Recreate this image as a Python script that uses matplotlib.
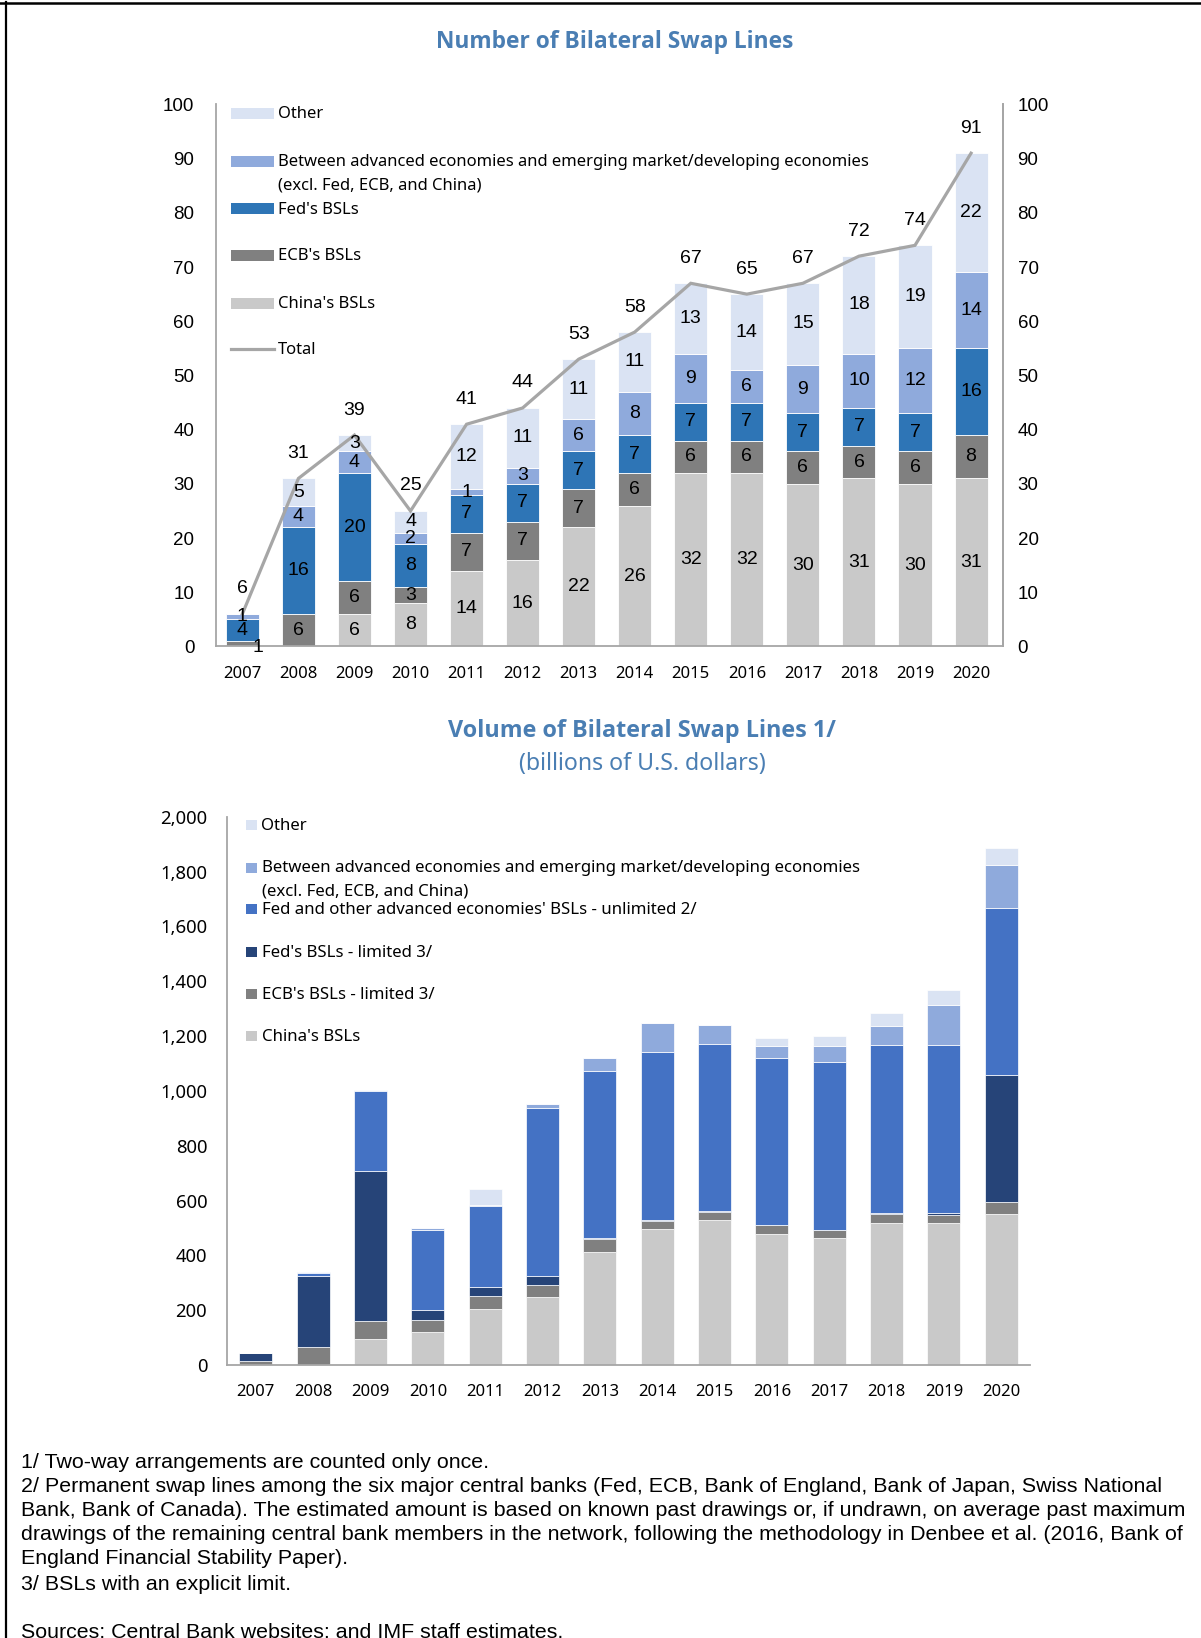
import matplotlib
matplotlib.use('Agg')
import matplotlib.pyplot as plt
from matplotlib.lines import Line2D
from matplotlib.patches import Rectangle
from matplotlib.ticker import FuncFormatter
import numpy as np

# ---------------- data ----------------
years = [str(y) for y in range(2007, 2021)]

# Number of bilateral swap lines
n_china = [0, 0, 6, 8, 14, 16, 22, 26, 32, 32, 30, 31, 30, 31]
n_ecb = [1, 6, 6, 3, 7, 7, 7, 6, 6, 6, 6, 6, 6, 8]
n_fed = [4, 16, 20, 8, 7, 7, 7, 7, 7, 7, 7, 7, 7, 16]
n_aeem = [1, 4, 4, 2, 1, 3, 6, 8, 9, 6, 9, 10, 12, 14]
n_other = [0, 5, 3, 4, 12, 11, 11, 11, 13, 14, 15, 18, 19, 22]
n_total = [6, 31, 39, 25, 41, 44, 53, 58, 67, 65, 67, 72, 74, 91]

# Volume of bilateral swap lines (billions of USD)
v_china = [0, 0, 95, 119, 205, 247, 412, 496, 530, 479, 463, 519, 517, 549]
v_ecb = [15, 66, 65, 45, 48, 45, 46, 30, 29, 30, 29, 30, 29, 46]
v_fed_lim = [30, 257, 546, 35, 33, 34, 4, 2, 3, 3, 0, 7, 8, 462]
v_unlim = [0, 13, 293, 293, 293, 610, 609, 612, 609, 609, 614, 611, 612, 609]
v_aeem = [0, 3, 5, 6, 3, 17, 50, 107, 68, 43, 58, 68, 148, 157]
v_other = [0, 0, 0, 0, 60, 0, 0, 0, 0, 30, 36, 49, 53, 63]

top_labels = ["Other",
              "Between advanced economies and emerging market/developing economies",
              "(excl. Fed, ECB, and China)",
              "Fed's BSLs", "ECB's BSLs", "China's BSLs", "Total"]
bot_labels = ["Other",
              "Between advanced economies and emerging market/developing economies",
              "(excl. Fed, ECB, and China)",
              "Fed and other advanced economies' BSLs - unlimited 2/",
              "Fed's BSLs - limited 3/", "ECB's BSLs - limited 3/", "China's BSLs"]

footnotes = [
    "1/ Two-way arrangements are counted only once.",
    "2/ Permanent swap lines among the six major central banks (Fed, ECB, Bank of England, Bank of Japan, Swiss National",
    "Bank, Bank of Canada). The estimated amount is based on known past drawings or, if undrawn, on average past maximum",
    "drawings of the remaining central bank members in the network, following the methodology in Denbee et al. (2016, Bank of",
    "England Financial Stability Paper).",
    "3/ BSLs with an explicit limit.",
    "Sources: Central Bank websites; and IMF staff estimates.",
]

# ---------------- style ----------------
C_OTHER = '#dae3f3'
C_AEEM = '#8faadc'
C_FED = '#2e75b6'
C_ECB = '#808080'
C_CHINA = '#c9c9c9'
C_UNLIM = '#4472c4'
C_FEDLIM = '#264478'
C_LINE = '#a6a6a6'
C_SPINE = '#a6a6a6'
C_TITLE = '#4a7eb3'

SANS = ['Noto Sans', 'DejaVu Sans']
BOLD = ['Open Sans', 'Lato', 'DejaVu Sans']
ARIAL = ['Liberation Sans', 'DejaVu Sans']

W, H = 1201, 1638
DPI = 100
fig = plt.figure(figsize=(W / DPI, H / DPI), dpi=DPI)
renderer = fig.canvas.get_renderer()


def fx(px):
    return px / W


def fy(py):
    return 1 - py / H


def fit_size(s, target, family, weight='normal', base=12.0):
    t = fig.text(0, 0, s, fontsize=base, family=family, weight=weight)
    w = t.get_window_extent(renderer).width
    t.remove()
    return base * target / w


# borders
fig.add_artist(Line2D([0, 1], [fy(3), fy(3)], transform=fig.transFigure,
                      color='black', lw=1.8))
fig.add_artist(Line2D([fx(6.2), fx(6.2)], [0, fy(2)], transform=fig.transFigure,
                      color='black', lw=1.6))

# ---------------- top chart ----------------
x = np.arange(len(years))
ax1 = fig.add_axes([fx(216), fy(646.5), fx(1003) - fx(216), fy(104.4) - fy(646.5)])
ax1.set_xlim(-0.47, 13.57)
ax1.set_ylim(0, 100)
bw1 = 0.59

series1 = [(n_china, C_CHINA), (n_ecb, C_ECB), (n_fed, C_FED), (n_aeem, C_AEEM), (n_other, C_OTHER)]
bottom = np.zeros(len(years))
LBL_FS = 14
for si, (vals, col) in enumerate(series1):
    vals = np.array(vals, dtype=float)
    ax1.bar(x, vals, bw1, bottom=bottom, color=col, edgecolor='white', linewidth=0.6, zorder=2)
    for i, v in enumerate(vals):
        if v <= 0:
            continue
        if si == 1 and i == 0:
            ax1.text(i + 0.27, -0.2, f"{int(v)}", ha='center', va='center', fontsize=LBL_FS,
                     family=ARIAL, zorder=5, clip_on=False)
        else:
            ax1.text(i, bottom[i] + v / 2, f"{int(v)}", ha='center', va='center',
                     fontsize=LBL_FS, family=ARIAL, zorder=5)
    bottom += vals

ax1.plot(x, n_total, color=C_LINE, lw=2.3, zorder=3, solid_joinstyle='miter')
for i, t in enumerate(n_total):
    ax1.annotate(f"{t}", (i, t), xytext=(0, 18), textcoords='offset points',
                 ha='center', va='center', fontsize=LBL_FS, family=ARIAL, zorder=5)

for s in ['top']:
    ax1.spines[s].set_visible(False)
for s in ['left', 'right', 'bottom']:
    ax1.spines[s].set_color(C_SPINE)
    ax1.spines[s].set_linewidth(1.3)
ax1.set_xticks(x)
ax1.set_xticklabels(years, family=SANS, fontsize=12)
ax1.set_yticks(range(0, 101, 10))
ax1.set_yticklabels([str(v) for v in range(0, 101, 10)], family=ARIAL, fontsize=13.5)
ax1.tick_params(axis='both', length=0)
ax1.tick_params(axis='y', pad=15.5)
ax1.tick_params(axis='x', pad=14)

ax1r = ax1.twinx()
ax1r.set_ylim(0, 100)
ax1r.set_yticks(range(0, 101, 10))
ax1r.set_yticklabels([str(v) for v in range(0, 101, 10)], family=ARIAL, fontsize=13.5)
ax1r.tick_params(axis='y', length=0, pad=10.5)
for s in ['top', 'left', 'bottom']:
    ax1r.spines[s].set_visible(False)
ax1r.spines['right'].set_color(C_SPINE)
ax1r.spines['right'].set_linewidth(1.3)

# top title
fs_t1 = fit_size("Number of Bilateral Swap Lines", 357, BOLD, 'bold')
fig.text(fx(615), fy(42.5), "Number of Bilateral Swap Lines", ha='center', va='center',
         fontsize=fs_t1, weight='bold', family=BOLD, color=C_TITLE)

# top legend
fs_leg1 = fit_size(top_labels[1], 590, SANS)
leg1_y = [114.5, 162.5, 185.5, 209.5, 256.5, 304.5, 350.5]
leg1_cols = [C_OTHER, C_AEEM, None, C_FED, C_ECB, C_CHINA, None]
for k, (lab, yy, col) in enumerate(zip(top_labels, leg1_y, leg1_cols)):
    fig.text(fx(278), fy(yy), lab, ha='left', va='center', fontsize=fs_leg1, family=SANS)
    if col is not None:
        fig.add_artist(Rectangle((fx(231), fy(yy + 4)), fx(274) - fx(231), fy(yy - 7) - fy(yy + 4),
                                 transform=fig.transFigure, facecolor=col, edgecolor='none'))
    elif k == 6:
        fig.add_artist(Line2D([fx(231), fx(274)], [fy(yy - 1.5), fy(yy - 1.5)], transform=fig.transFigure,
                              color=C_LINE, lw=2.3))

# ---------------- bottom chart ----------------
ax2 = fig.add_axes([fx(226.6), fy(1365), fx(1030) - fx(226.6), fy(816.7) - fy(1365)])
ax2.set_xlim(-0.51, 13.5)
ax2.set_ylim(0, 2000)
bw2 = 0.575
series2 = [(v_china, C_CHINA), (v_ecb, C_ECB), (v_fed_lim, C_FEDLIM), (v_unlim, C_UNLIM),
           (v_aeem, C_AEEM), (v_other, C_OTHER)]
bottom = np.zeros(len(years))
for vals, col in series2:
    vals = np.array(vals, dtype=float)
    ax2.bar(x, vals, bw2, bottom=bottom, color=col, edgecolor='white', linewidth=0.5, zorder=2)
    bottom += vals

for s in ['top', 'right']:
    ax2.spines[s].set_visible(False)
for s in ['left', 'bottom']:
    ax2.spines[s].set_color(C_SPINE)
    ax2.spines[s].set_linewidth(1.3)
ax2.set_xticks(x)
ax2.set_xticklabels(years, family=SANS, fontsize=12)
ax2.set_yticks(range(0, 2001, 200))
ax2.yaxis.set_major_formatter(FuncFormatter(lambda v, p: f"{int(v):,}"))
for lab in ax2.get_yticklabels():
    lab.set_family(SANS)
    lab.set_fontsize(13.3)
ax2.tick_params(axis='both', length=0)
ax2.tick_params(axis='y', pad=14, labelsize=13.3)
ax2.tick_params(axis='x', pad=14)

fs_t2 = fit_size("Volume of Bilateral Swap Lines 1/", 387, BOLD, 'bold')
fig.text(fx(642), fy(731), "Volume of Bilateral Swap Lines 1/", ha='center', va='center',
         fontsize=fs_t2, weight='bold', family=BOLD, color=C_TITLE)
fs_t3 = fit_size("(billions of U.S. dollars)", 246, SANS)
fig.text(fx(642), fy(764), "(billions of U.S. dollars)", ha='center', va='center',
         fontsize=fs_t3, family=SANS, color=C_TITLE)

fs_leg2 = fit_size(bot_labels[1], 599, SANS)
leg2_y = [826, 868.5, 892, 910, 953, 995, 1037]
leg2_cols = [C_OTHER, C_AEEM, None, C_UNLIM, C_FEDLIM, C_ECB, C_CHINA]
for lab, yy, col in zip(bot_labels, leg2_y, leg2_cols):
    fig.text(fx(261.5), fy(yy), lab, ha='left', va='center', fontsize=fs_leg2, family=SANS)
    if col is not None:
        fig.add_artist(Rectangle((fx(246), fy(yy + 4)), fx(257) - fx(246), fy(yy - 6) - fy(yy + 4),
                                 transform=fig.transFigure, facecolor=col, edgecolor='none'))

# ---------------- footnotes ----------------
fs_fn = fit_size(footnotes[2], 1166, ARIAL)
fn_y = [1462, 1486, 1511, 1535, 1559, 1584, 1632]
for txt, yy in zip(footnotes, fn_y):
    fig.text(fx(21), fy(yy), txt, ha='left', va='center', fontsize=fs_fn, family=ARIAL)

fig.savefig('out.png', dpi=DPI)
